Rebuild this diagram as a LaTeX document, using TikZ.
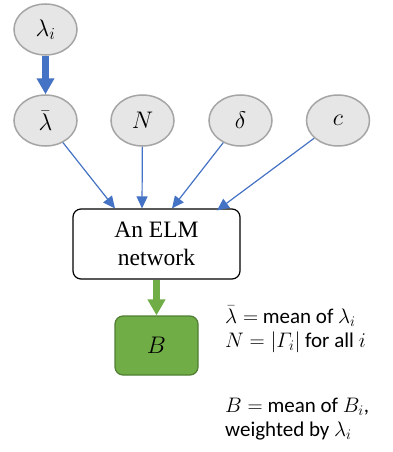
\RequirePackage{fix-cm}
\documentclass[tikz,border=0pt]{standalone}
\usepackage{fontspec}
\newfontfamily\notefont{Carlito}
\newfontfamily\boxfont{Liberation Serif}
\usetikzlibrary{arrows.meta,shapes.geometric,positioning}
\definecolor{nodegray}{HTML}{E7E6E6}
\definecolor{rimgray}{HTML}{A5A5A5}
\definecolor{linkblue}{HTML}{4472C4}
\definecolor{outgreen}{HTML}{70AD47}
\definecolor{rimgreen}{HTML}{507E32}
\tikzset{
  var/.style={ellipse, draw=rimgray, fill=nodegray, line width=1.5pt, minimum width=63pt, minimum height=51pt, inner sep=0pt, font=\fontsize{24}{28}\selectfont},
  link/.style={draw=linkblue, line width=1.2pt, -{Triangle[length=12pt,width=11pt]}},
  fatlink/.style={line width=6.5pt, -{Triangle[length=16pt,width=17pt]}},
}

\begin{document}
\begin{tikzpicture}[x=1pt,y=-1pt]
		%%%%% START %%%%%
		\useasboundingbox (0,0) rectangle (392,452);
		
		\node[var] (lami) at (45.5,29.5) {$\lambda_i$};
		\node[var] (lbar) at (45.5,120.5) {$\bar\lambda$};
		\node[var] (nn) at (142.5,120.5) {$N$};
		\node[var] (delta) at (240.5,120.5) {$\delta$};
		\node[var] (cc) at (338,120.5) {$c$};
		
		\node[draw, rounded corners=8pt, line width=1.2pt, minimum width=167pt, minimum height=70pt, align=center, font=\boxfont\fontsize{23.5}{28}\selectfont] (elm) at (156.5,244) {An ELM\\network};
		\node[draw=rimgreen, fill=outgreen, rounded corners=8pt, line width=1.2pt, minimum width=83pt, minimum height=59pt, font=\fontsize{24}{28}\selectfont] (bb) at (156.5,345.5) {$B$};
		
		\draw[fatlink, linkblue] (lami) -- (lbar);
		\draw[link] (lbar) -- ([xshift=-41.5pt]elm.north);
		\draw[link] (nn) -- ([xshift=-14.5pt]elm.north);
		\draw[link] (delta) -- ([xshift=15.5pt]elm.north);
		\draw[link] (cc) -- ([xshift=60.5pt,yshift=-2pt]elm.north);
		\draw[fatlink, outgreen] (elm) -- (bb);
		
		\node[anchor=north west, align=left, inner sep=0pt, font=\notefont\fontsize{21}{24}\selectfont] (note) at (225,306)
		  {$\bar\lambda=$ mean of $\lambda_i$\\ $N=|\mathnormal{\Gamma}_i|$ for all $i$\\[41pt] $B=$ mean of $B_i$,\\ weighted by $\lambda_i$};
		
		%%%%% END %%%%%
	\end{tikzpicture}
\end{document}
